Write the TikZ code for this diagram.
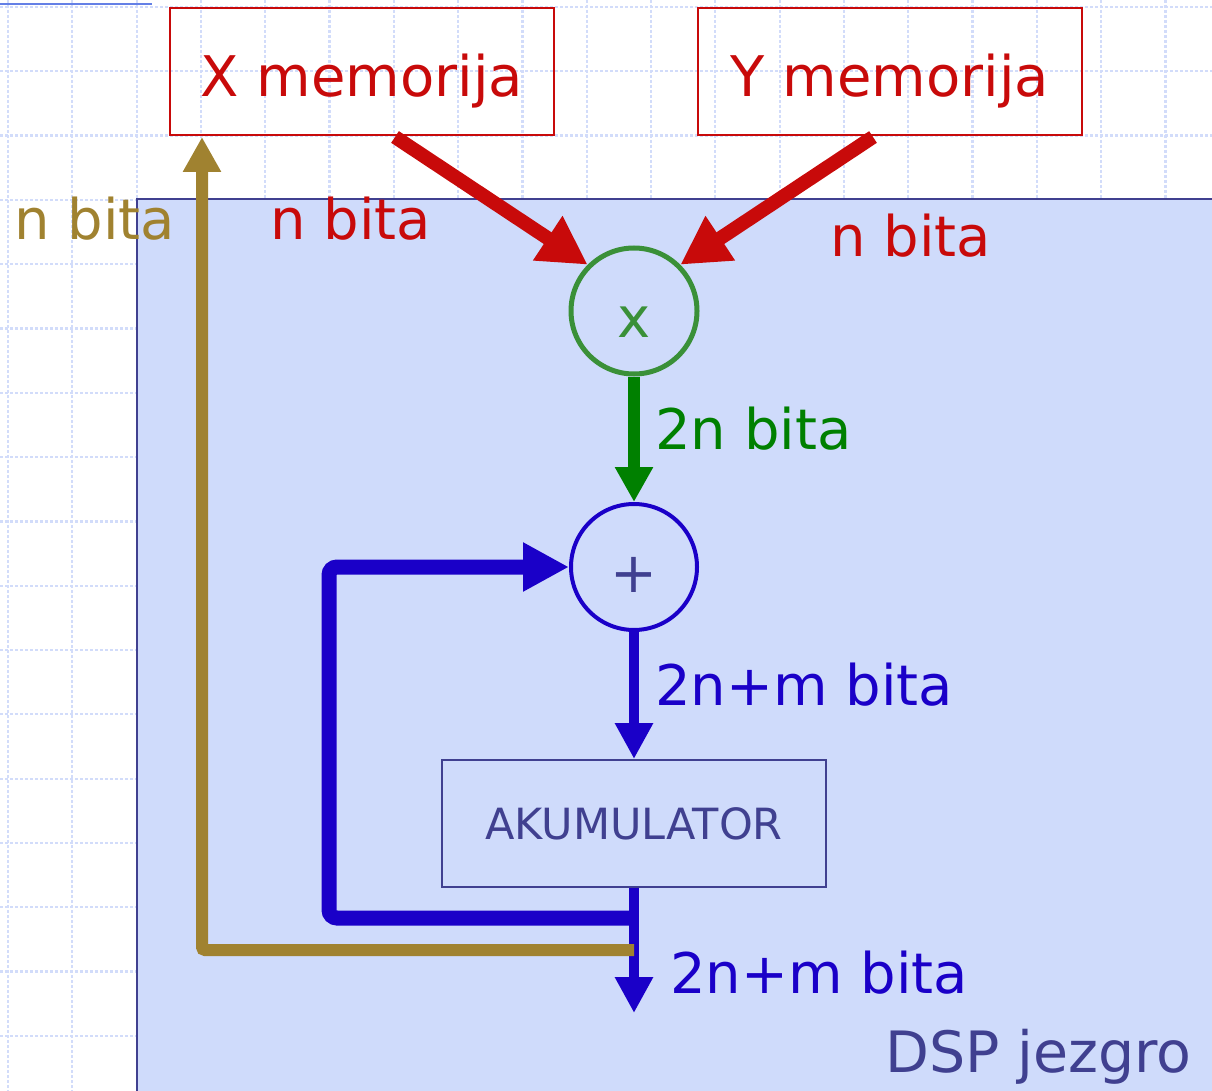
\documentclass[tikz,border=0pt]{standalone}
\usepackage{fontspec}
\setmainfont{DejaVu Sans}
\usetikzlibrary{arrows.meta}
\definecolor{memred}{RGB}{200,10,10}
\definecolor{mulgreen}{RGB}{58,144,56}
\definecolor{wiregreen}{RGB}{0,128,0}
\definecolor{wireblue}{RGB}{26,0,200}
\definecolor{wiregold}{RGB}{160,130,48}
\definecolor{coreblue}{RGB}{64,64,144}
\definecolor{corefill}{RGB}{207,219,251}
\definecolor{gridblue}{RGB}{210,220,250}
\definecolor{topline}{RGB}{100,128,230}
\newcommand\lblfont{\fontsize{56}{66}\selectfont}
\newcommand\accfont{\fontsize{43}{52}\selectfont}
\tikzset{
  gridline/.style={draw=gridblue, line width=2.2pt, dash pattern=on 3pt off 2pt},
  membox/.style={draw=memred, line width=2pt, minimum width=384pt, minimum height=127pt, inner sep=0pt, text=memred, font=\lblfont, text height=51pt, text depth=0pt},
  opcircle/.style={circle, minimum size=126pt, inner sep=0pt, font=\lblfont},
  accbox/.style={draw=coreblue, line width=2pt, minimum width=384pt, minimum height=127pt, inner sep=0pt, text=coreblue, font=\accfont},
  lbl/.style={anchor=base west, inner sep=0pt, font=\lblfont},
  redarrow/.style={draw=memred, line width=14pt, -{Triangle[length=48pt,width=50pt]}},
  greenarrow/.style={draw=wiregreen, line width=12pt, -{Triangle[length=35pt,width=36pt]}},
  bluearrow/.style={draw=wireblue, line width=10pt, -{Triangle[length=36pt,width=36pt]}},
  feedback/.style={draw=wireblue, line width=15pt, rounded corners=8pt, -{Triangle[length=46pt,width=46pt]}},
  goldarrow/.style={draw=wiregold, line width=12pt, rounded corners=3pt, -{Triangle[length=35pt,width=36pt]}},
}
\begin{document}
\begin{tikzpicture}[x=1pt,y=-1pt]
\useasboundingbox (0,0) rectangle (1212,1091);
% background grid
\foreach \i in {0,...,18} \draw[gridline] ({8+\i*64.3},0) -- ({8+\i*64.3},1091);
\foreach \j in {0,...,16} \draw[gridline] (0,{7+\j*64.3}) -- (1212,{7+\j*64.3});
\draw[topline, line width=2pt] (0,4) -- (152,4);
% DSP core area
\fill[corefill] (137,199) rectangle (1230,1110);
\draw[coreblue, line width=2pt] (1230,199) -- (137,199) -- (137,1110);
% memories
\node[membox] (xm) at (362,71.5) {X memorija};
\node[membox] (ym) at (890,71.5) {Y memorija};
% operators
\node[opcircle, draw=mulgreen, line width=5pt, text=mulgreen] (mul) at (634,311) {\raisebox{-26pt}[0pt][0pt]{x}};
\node[opcircle, draw=wireblue, line width=4pt, text=coreblue] (add) at (634,567) {\raisebox{-25pt}[0pt][0pt]{+}};
\node[accbox] (acc) at (634,823.5) {AKUMULATOR};
% connector coordinates
\coordinate (xs) at (395,137);
\coordinate (ys) at (873,137);
\coordinate (j1) at (634,918);
\coordinate (c1) at (329,918);
\coordinate (c2) at (329,567);
\coordinate (out) at (634,1013);
\coordinate (g0) at (634,950);
\coordinate (g1) at (202,950);
\coordinate (gt) at (202,137);
% connectors
\draw[redarrow] (xs) -- (mul.135);
\draw[redarrow] (ys) -- (mul.45);
\draw[greenarrow] (mul.south) -- (add.north);
\draw[bluearrow] (add.south) -- (acc.north);
\draw[bluearrow] (acc.south) -- (out);
\draw[feedback] (j1) -- (c1) -- (c2) -- (add.west);
\draw[goldarrow] (g0) -- (g1) -- (gt);
% labels
\node[lbl, text=wiregold] (l1) at (14,240) {n bita};
\node[lbl, text=memred] (l2) at (270,240) {n bita};
\node[lbl, text=memred] (l3) at (830,257) {n bita};
\node[lbl, text=wiregreen] (l4) at (655,449) {2n bita};
\node[lbl, text=wireblue] (l5) at (655,705) {2n+m bita};
\node[lbl, text=wireblue] (l6) at (670,993) {2n+m bita};
\node[lbl, text=coreblue, font=\fontsize{57}{66}\selectfont] (l7) at (885,1072) {DSP jezgro};
\end{tikzpicture}
\end{document}
